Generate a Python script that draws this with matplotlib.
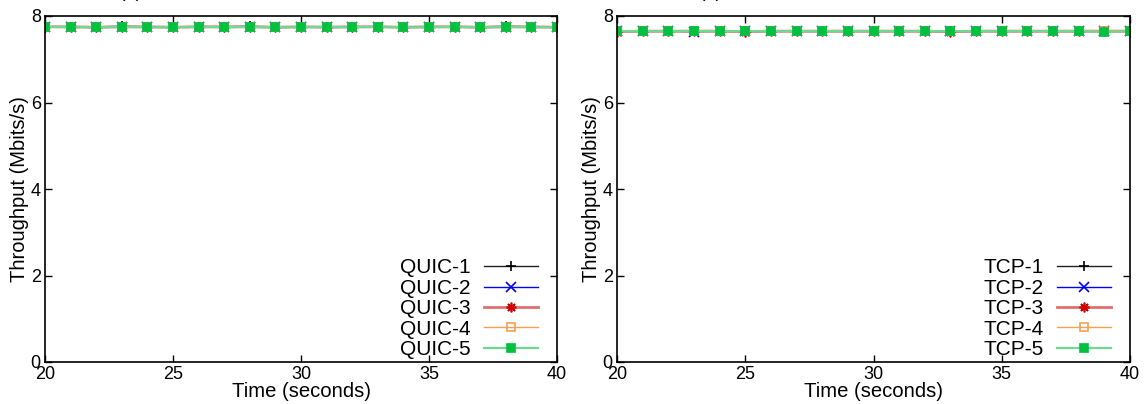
import matplotlib
matplotlib.use("Agg")
import matplotlib.pyplot as plt

plt.rcParams['font.family'] = ['Liberation Sans', 'DejaVu Sans']

# Time in seconds
time_s = list(range(20, 41))

# QUIC throughput (Mbits/s)
quic_1 = [7.75, 7.75, 7.75, 7.76, 7.75, 7.75, 7.75, 7.75, 7.76, 7.75, 7.75, 7.75, 7.75, 7.75, 7.75, 7.75, 7.75, 7.75, 7.76, 7.75, 7.75]
quic_2 = [7.75, 7.74, 7.75, 7.75, 7.75, 7.75, 7.75, 7.75, 7.75, 7.75, 7.75, 7.75, 7.75, 7.75, 7.75, 7.74, 7.75, 7.75, 7.75, 7.75, 7.75]
quic_3 = [7.75, 7.75, 7.74, 7.75, 7.75, 7.74, 7.75, 7.75, 7.75, 7.74, 7.75, 7.74, 7.75, 7.75, 7.74, 7.75, 7.75, 7.74, 7.75, 7.75, 7.74]
quic_4 = [7.74, 7.75, 7.74, 7.75, 7.74, 7.75, 7.74, 7.75, 7.75, 7.74, 7.75, 7.74, 7.74, 7.75, 7.74, 7.74, 7.75, 7.74, 7.75, 7.74, 7.74]
quic_5 = [7.75, 7.74, 7.74, 7.75, 7.74, 7.74, 7.75, 7.74, 7.75, 7.74, 7.74, 7.75, 7.74, 7.75, 7.74, 7.74, 7.75, 7.74, 7.75, 7.74, 7.74]

# TCP throughput (Mbits/s)
tcp_1 = [7.65, 7.65, 7.65, 7.65, 7.65, 7.65, 7.65, 7.65, 7.65, 7.65, 7.65, 7.65, 7.65, 7.65, 7.65, 7.65, 7.65, 7.65, 7.65, 7.65, 7.65]
tcp_2 = [7.65, 7.65, 7.65, 7.64, 7.65, 7.65, 7.65, 7.65, 7.65, 7.65, 7.65, 7.65, 7.65, 7.65, 7.65, 7.65, 7.65, 7.65, 7.65, 7.65, 7.65]
tcp_3 = [7.64, 7.65, 7.65, 7.65, 7.65, 7.64, 7.65, 7.65, 7.65, 7.65, 7.65, 7.65, 7.65, 7.64, 7.65, 7.65, 7.65, 7.65, 7.65, 7.65, 7.65]
tcp_4 = [7.65, 7.65, 7.65, 7.65, 7.65, 7.65, 7.65, 7.65, 7.65, 7.65, 7.65, 7.65, 7.65, 7.65, 7.65, 7.65, 7.65, 7.65, 7.65, 7.66, 7.65]
tcp_5 = [7.65, 7.65, 7.65, 7.65, 7.65, 7.65, 7.65, 7.65, 7.65, 7.65, 7.65, 7.65, 7.65, 7.65, 7.65, 7.65, 7.65, 7.65, 7.65, 7.63, 7.65]

# gnuplot-like styles: (line colour, line width, marker, marker colour, filled)
styles = [
    ("#202020", 1.0, "+", "#000000", True),
    ("#0000ff", 1.0, "x", "#0000ff", True),
    ("#e07070", 2.0, (8, 2, 0), "#cc0000", True),
    ("#f5a050", 1.0, "s", "#f5a050", False),
    ("#70d890", 1.6, "s", "#00c040", True),
]

W, H = 1146, 404
fig = plt.figure(figsize=(W / 100, H / 100), dpi=100)


def panel(left, right, series, labels, tag, tag_x):
    ax = fig.add_axes([left / W, 1 - 362 / H, (right - left) / W, (362 - 16) / H])
    for ys, lab, (lc, lw, mk, mc, filled) in zip(series, labels, styles):
        ax.plot(time_s, ys, color=lc, lw=lw, marker=mk, ms=5.8 if mk == "s" else 7,
                mec=mc, mfc=mc if filled else "none", mew=1.2, label=lab)
    ax.set_xlim(20, 40)
    ax.set_ylim(0, 8)
    ax.set_xticks([20, 25, 30, 35, 40])
    ax.set_yticks([0, 2, 4, 6, 8])
    ax.tick_params(direction="in", top=True, right=True, length=5, width=1,
                   labelsize=13, pad=3)
    for s in ax.spines.values():
        s.set_linewidth(1.2)
    ax.set_xlabel("Time (seconds)", fontsize=14.6, labelpad=-1)
    ax.set_ylabel("Throughput (Mbits/s)", fontsize=14.5, labelpad=1)
    ax.legend(loc="lower right", bbox_to_anchor=(0.962, 0.008), frameon=False,
              markerfirst=False, fontsize=15, handlelength=2.55,
              handletextpad=0.65, labelspacing=0.07, borderpad=0,
              borderaxespad=0)
    fig.text(tag_x / W, 1 + 3 / H, tag, fontsize=14, va="baseline", ha="left")
    return ax


panel(45, 557, [quic_1, quic_2, quic_3, quic_4, quic_5],
      ["QUIC-1", "QUIC-2", "QUIC-3", "QUIC-4", "QUIC-5"], "(a)", 119)
panel(617, 1130, [tcp_1, tcp_2, tcp_3, tcp_4, tcp_5],
      ["TCP-1", "TCP-2", "TCP-3", "TCP-4", "TCP-5"], "(b)", 699)

fig.savefig("out.png", dpi=100)
